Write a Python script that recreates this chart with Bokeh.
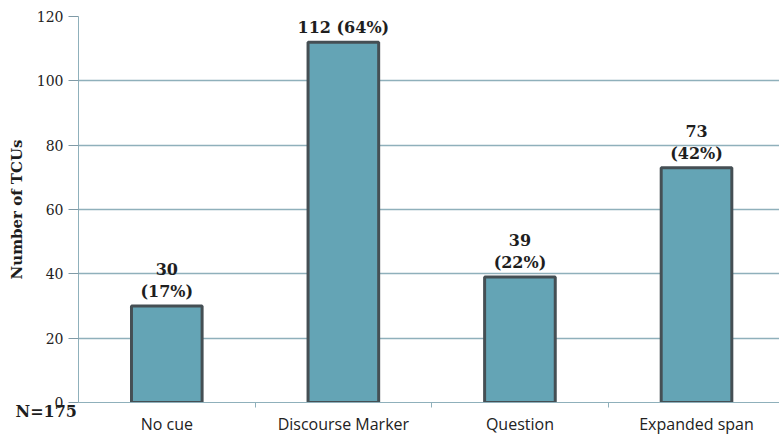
from bokeh.plotting import figure
from bokeh.models import ColumnDataSource, Range1d, FixedTicker, Title
from bokeh.core.properties import value
from bokeh.embed import file_html
from bokeh.resources import INLINE

categories = ["No cue", "Discourse Marker", "Question", "Expanded span"]
counts = [30, 112, 39, 73]
percents = ["17%", "64%", "22%", "42%"]
total_label = "N=175"
y_ticks = [0, 20, 40, 60, 80, 100, 120]
y_title = "Number of TCUs"

centers = [i + 0.5 for i in range(len(categories))]
labels = [f"{c}\n({p})" if c < 100 else f"{c} ({p})" for c, p in zip(counts, percents)]

src = ColumnDataSource(dict(x=centers, top=counts, label=labels))

p = figure(width=779, height=438, output_backend="svg", toolbar_location=None,
           x_range=Range1d(0, 3.97), y_range=Range1d(0, 120),
           min_border_left=78, min_border_right=0, min_border_top=16, min_border_bottom=36)
p.outline_line_color = None
p.background_fill_color = "white"
p.border_fill_color = "white"

grid_col = "#8fb0bb"
p.xgrid.grid_line_color = None
p.ygrid.grid_line_color = grid_col
p.ygrid.grid_line_width = 1.3
p.ygrid.ticker = FixedTicker(ticks=y_ticks)

p.vbar(x="x", top="top", width=0.40, source=src, fill_color="#64a4b5",
       line_color="#454f54", line_width=3)

p.text(x="x", y="top", text="label", source=src, text_align="center",
       text_baseline="bottom", y_offset=-5, text_font=value("DejaVu Serif"),
       text_font_style="bold", text_font_size="16px", text_line_height=1.15,
       text_color="#1e1e1e")

# y axis
ya = p.yaxis[0]
ya.ticker = FixedTicker(ticks=y_ticks)
ya.axis_line_color = grid_col
ya.major_tick_line_color = "#7f9aa6"
ya.major_tick_out = 10
ya.major_tick_in = 0
ya.minor_tick_line_color = None
ya.major_label_standoff = 5
ya.major_label_text_font = "DejaVu Serif"
ya.major_label_text_font_size = "14px"
ya.major_label_text_color = "#222222"
ya.axis_label = y_title
ya.axis_label_text_font = "DejaVu Serif"
ya.axis_label_text_font_style = "bold"
ya.axis_label_text_font_size = "15px"
ya.axis_label_text_color = "#1e1e1e"
ya.axis_label_standoff = 8

# x axis
xa = p.xaxis[0]
xa.ticker = FixedTicker(ticks=centers, minor_ticks=[1, 2, 3])
xa.major_label_overrides = {c: n for c, n in zip(centers, categories)}
xa.axis_line_color = grid_col
xa.major_tick_out = 0
xa.major_tick_in = 0
xa.minor_tick_out = 5
xa.minor_tick_in = 0
xa.minor_tick_line_color = grid_col
xa.major_label_standoff = 5
xa.major_label_text_font = "Open Sans"
xa.major_label_text_font_size = "16px"
xa.major_label_text_color = "#222222"

# sample size note, bottom left (placed between the frame and the category labels)
note = Title(text="\u00a0\n" + total_label, align="left", vertical_align="top", offset=-63,
             standoff=-40, text_font="DejaVu Serif", text_font_style="bold",
             text_font_size="16px", text_line_height=1.0, text_color="#1e1e1e")
p.below = [note] + list(p.below)

open("out.html", "w").write(file_html(p, INLINE))
